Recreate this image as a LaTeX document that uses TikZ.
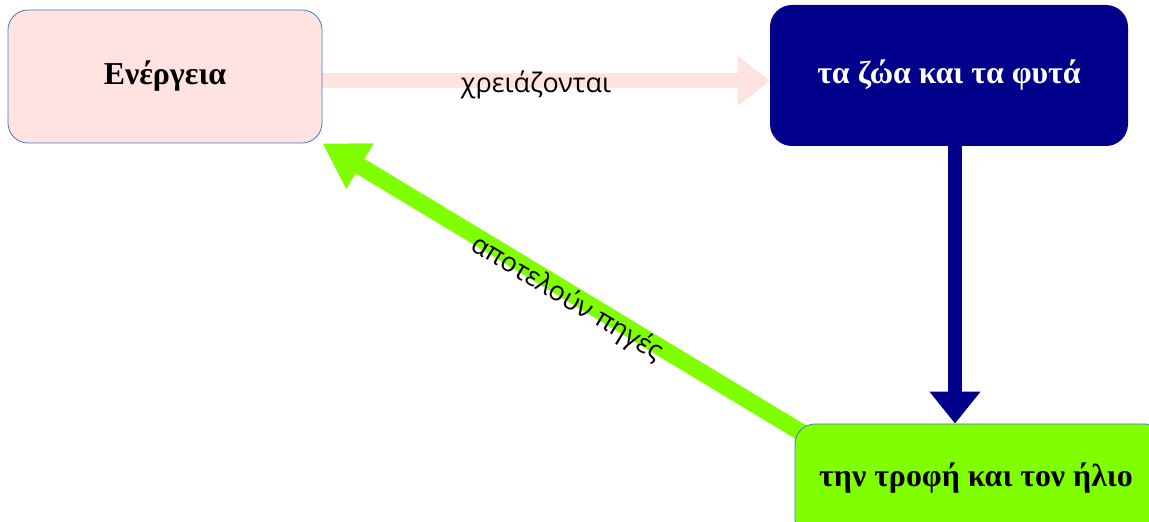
\documentclass[tikz,border=0pt]{standalone}
\usepackage{fontspec}
\setmainfont{Liberation Serif}
\newfontfamily\lblfont{Open Sans}
\usetikzlibrary{arrows.meta,backgrounds}
\definecolor{pinkfill}{HTML}{FFE3E0}
\definecolor{navyfill}{HTML}{00008B}
\definecolor{greenfill}{HTML}{80FF00}
\definecolor{edgeblue}{HTML}{4A76C0}
\tikzset{
  box/.style={rounded corners=20bp, inner sep=0pt, font=\bfseries\fontsize{32}{36}\selectfont},
  lbl/.style={font=\lblfont\fontsize{27}{30}\selectfont, inner sep=0pt},
}
\begin{document}
\begin{tikzpicture}[x=1bp,y=-1bp]
\useasboundingbox (0,0) rectangle (1149,522);
\clip (0,0) rectangle (1149,522);
\node[box, fill=pinkfill, draw=edgeblue, line width=0.8bp, minimum width=314bp, minimum height=133bp] (e) at (165,76.5) {Ενέργεια};
\node[box, fill=navyfill, text=white, rounded corners=22bp, minimum width=358bp, minimum height=141bp] (b) at (949,75.5) {τα ζώα και τα φυτά};
\node[box, fill=greenfill, draw=edgeblue, line width=0.8bp, minimum width=370bp, minimum height=116bp] (g) at (980,482) {};
\node[font=\bfseries\fontsize{32}{36}\selectfont, inner sep=0pt] (gt) at (976,478) {την τροφή και τον ήλιο};
% arrows
\begin{scope}[on background layer]
\fill[white] (0,0) rectangle (1149,522);
\draw[pinkfill, line width=15bp, -{Triangle[length=32bp,width=48bp]}] ([yshift=-4.5bp]e.east) -- ([yshift=-4.5bp]e.east -| b.west);
\draw[navyfill, line width=14bp, -{Triangle[length=32bp,width=49bp]}] ([xshift=6bp]b.south) -- ([xshift=6bp]b.south |- g.north);
\draw[greenfill, line width=17bp, -{Triangle[length=44bp,width=50bp]}] ([xshift=12bp,yshift=-12bp]g.north west) -- (e.south east);
\end{scope}
\node[lbl] (l1) at (536,85) {χρειάζονται};
\node[lbl, rotate=-31] (l2) at (567,299) {αποτελούν πηγές};
\end{tikzpicture}
\end{document}
